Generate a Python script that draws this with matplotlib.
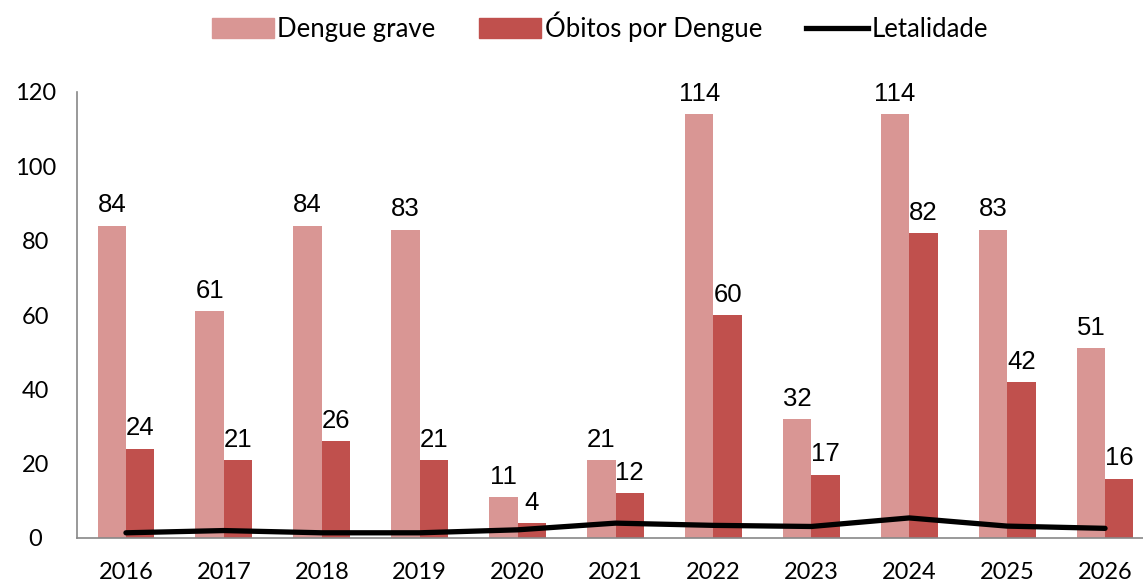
import matplotlib
matplotlib.use("Agg")
import matplotlib.pyplot as plt
import numpy as np
from matplotlib.lines import Line2D
from matplotlib.patches import Patch

years = ["2016", "2017", "2018", "2019", "2020", "2021", "2022", "2023", "2024", "2025", "2026"]
dengue_grave = [84, 61, 84, 83, 11, 21, 114, 32, 114, 83, 51]
obitos = [24, 21, 26, 21, 4, 12, 60, 17, 82, 42, 16]
letalidade = [1.4, 2.0, 1.4, 1.4, 2.2, 4.0, 3.4, 3.1, 5.4, 3.2, 2.6]

c_grave = "#D99694"
c_obito = "#C0504D"

plt.rcParams['font.family'] = ['Lato', 'DejaVu Sans']

fig = plt.figure(figsize=(11.43, 5.84), dpi=100)
ax = fig.add_axes([77/1143, (584-538)/584, 1077/1143, (538-92)/584])

x = np.arange(len(years))
w = 0.29
ax.bar(x - w/2, dengue_grave, w, color=c_grave)
ax.bar(x + w/2, obitos, w, color=c_obito)
ax.plot(x, letalidade, color="black", lw=3.8, solid_capstyle="round", zorder=5)

for xi, v in zip(x, dengue_grave):
    ax.annotate(str(v), (xi - w/2, v), xytext=(0, 6), textcoords="offset points",
                ha="center", va="bottom", fontsize=18.5, family="Liberation Sans")
for xi, v in zip(x, obitos):
    ax.annotate(str(v), (xi + w/2, v), xytext=(0, 6), textcoords="offset points",
                ha="center", va="bottom", fontsize=18.5, family="Liberation Sans")

ax.set_xlim(-0.5, 10.5)
ax.set_ylim(0, 120)
ax.set_yticks([0, 20, 40, 60, 80, 100, 120])
ax.set_xticks(x)
ax.set_xticklabels(years)
ax.tick_params(axis="both", length=0, labelsize=17)
ax.tick_params(axis="x", pad=17)
ax.tick_params(axis="y", pad=30)
for lab in ax.get_yticklabels():
    lab.set_horizontalalignment("center")

for s in ["top", "right"]:
    ax.spines[s].set_visible(False)
for s in ["left", "bottom"]:
    ax.spines[s].set_color("#888888")
    ax.spines[s].set_linewidth(1.2)

handles = [Patch(color=c_grave), Patch(color=c_obito),
           Line2D([0], [0], color="black", lw=3.8)]
labels = ["Dengue grave", "Óbitos por Dengue", "Letalidade"]
fig.legend(handles, labels, loc="center", bbox_to_anchor=(600/1143, 1 - 27/584),
           ncol=3, frameon=False, fontsize=18.5, handlelength=2.4, handleheight=0.8,
           handletextpad=0.15, columnspacing=1.7)

fig.savefig("out.png", dpi=100)
